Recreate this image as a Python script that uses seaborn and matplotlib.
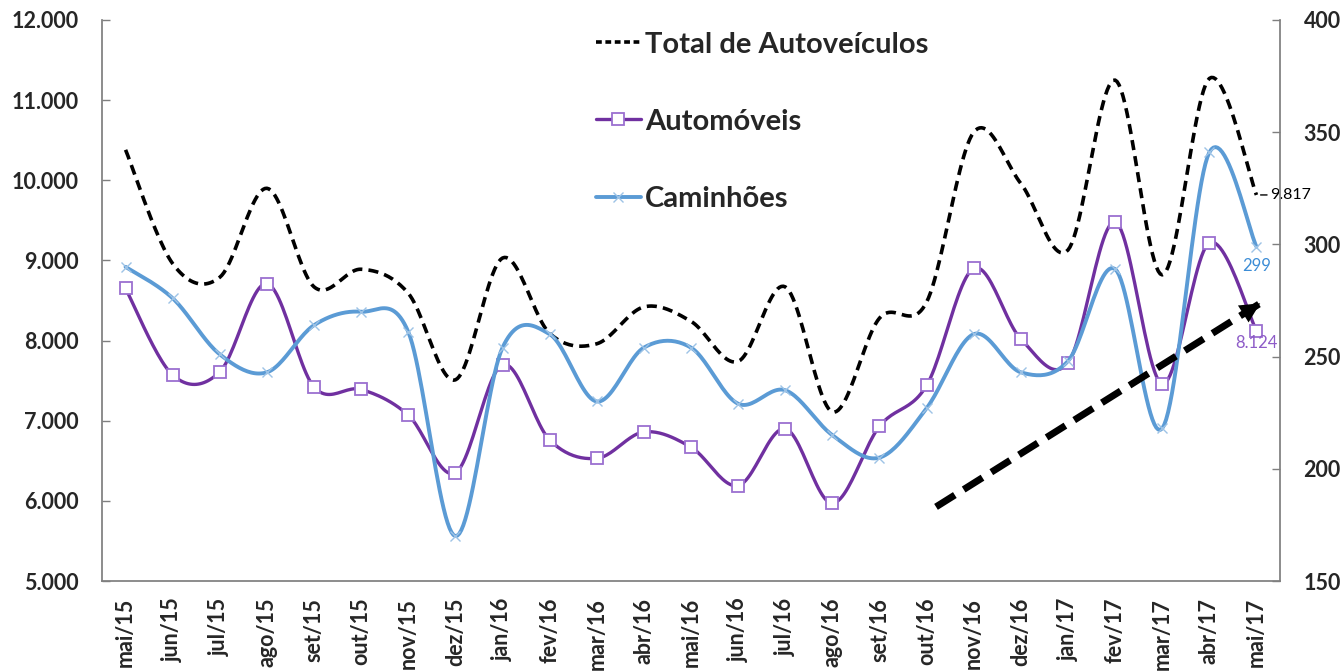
import numpy as np
import pandas as pd
import matplotlib
matplotlib.use("Agg")
import matplotlib.pyplot as plt
import seaborn as sns
from matplotlib.lines import Line2D
from matplotlib.ticker import FuncFormatter, FixedLocator

# ==========================
# DATA
# ==========================

months = ["mai/15", "jun/15", "jul/15", "ago/15", "set/15", "out/15", "nov/15",
          "dez/15", "jan/16", "fev/16", "mar/16", "abr/16", "mai/16", "jun/16",
          "jul/16", "ago/16", "set/16", "out/16", "nov/16", "dez/16", "jan/17",
          "fev/17", "mar/17", "abr/17", "mai/17"]

total = [10380, 8960, 8790, 9900, 8670, 8890, 8590, 7510, 9030, 8090, 7960,
         8420, 8240, 7740, 8670, 7110, 8280, 8480, 10600, 9960, 9130, 11250,
         8820, 11270, 9817]

automoveis = [8650, 7570, 7610, 8710, 7420, 7390, 7070, 6350, 7700, 6760, 6530,
              6860, 6670, 6190, 6900, 5970, 6930, 7440, 8900, 8020, 7720, 9480,
              7460, 9220, 8124]

caminhoes = [290, 276, 251, 243, 264, 270, 261, 170, 254, 260, 230, 254, 254,
             229, 235, 215, 205, 227, 260, 243, 248, 289, 218, 341, 299]

# trend arrow (category index, left axis value)
trend_start = (17.2, 5925)
trend_end = (24.08, 8465)

left_ticks = [5000, 6000, 7000, 8000, 9000, 10000, 11000, 12000]
right_ticks = [150, 200, 250, 300, 350, 400]

# ==========================
# STYLE
# ==========================

sns.set_theme(style="white")
plt.rcParams["font.family"] = ["Lato", "DejaVu Sans"]

PURPLE = "#7030A0"
PURPLE_MARK = "#9B6FD0"
BLUE = "#5B9BD5"
BLUE_MARK = "#9DC3E6"
AXIS_GREY = "#7F7F7F"


def smooth(values, n=24):
    # catmull-rom curve through the points, similar to excel smoothed lines
    x = np.arange(len(values), dtype=float)
    y = np.asarray(values, dtype=float)
    px = np.concatenate([[x[0]], x, [x[-1]]])
    py = np.concatenate([[y[0]], y, [y[-1]]])
    out_x, out_y = [], []
    t = np.linspace(0, 1, n, endpoint=False)
    for i in range(len(values) - 1):
        for p, out in ((px, out_x), (py, out_y)):
            p0, p1, p2, p3 = p[i], p[i + 1], p[i + 2], p[i + 3]
            seg = 0.5 * ((2 * p1) + (-p0 + p2) * t
                         + (2 * p0 - 5 * p1 + 4 * p2 - p3) * t ** 2
                         + (-p0 + 3 * p1 - 3 * p2 + p3) * t ** 3)
            out.extend(seg)
    out_x.append(x[-1])
    out_y.append(y[-1])
    return pd.DataFrame({"x": out_x, "y": out_y})


fig = plt.figure(figsize=(13.44, 6.72), dpi=100)
ax = fig.add_axes([102 / 1344, 1 - 581 / 672, 1178 / 1344, 561 / 672])
ax2 = ax.twinx()

# ==========================
# LINES
# ==========================

tot_curve = smooth(total)
sns.lineplot(data=tot_curve, x="x", y="y", ax=ax, color="black", lw=2.6,
             sort=False, estimator=None)
ax.lines[-1].set_dashes((2.8, 1.7))

auto_curve = smooth(automoveis)
sns.lineplot(data=auto_curve, x="x", y="y", ax=ax, color=PURPLE, lw=2.4,
             sort=False, estimator=None)
ax.plot(range(len(months)), automoveis, ls="none", marker="s", ms=8,
        mfc="white", mec=PURPLE_MARK, mew=1.3)

cam_curve = smooth(caminhoes)
sns.lineplot(data=cam_curve, x="x", y="y", ax=ax2, color=BLUE, lw=2.8,
             sort=False, estimator=None)
ax2.plot(range(len(months)), caminhoes, ls="none", marker="x", ms=7,
         mec=BLUE_MARK, mew=1.0)

# trend arrow
ax2.plot([trend_start[0], trend_end[0]], [trend_start[1], trend_end[1]],
         transform=ax.transData, color="black", lw=5, dashes=(3.2, 1.5),
         solid_capstyle="butt", dash_capstyle="butt")
back = (trend_end[0] - 0.04 * (trend_end[0] - trend_start[0]),
        trend_end[1] - 0.04 * (trend_end[1] - trend_start[1]))
ax2.annotate("", xy=trend_end, xytext=back, xycoords=ax.transData,
             textcoords=ax.transData,
             arrowprops=dict(arrowstyle="-|>", color="black", lw=0,
                             mutation_scale=36, shrinkA=0, shrinkB=0))

# data labels for last month
last = len(months) - 1
ax.annotate(f"{total[last]:,}".replace(",", "."), xy=(last, total[last]),
            xytext=(10, 0), textcoords="offset points", ha="left",
            va="center", fontsize=11.5, color="black",
            arrowprops=dict(arrowstyle="-", lw=1, color="black",
                            shrinkA=0, shrinkB=3))
ax2.annotate(str(caminhoes[last]), xy=(last, caminhoes[last]),
             xytext=(0, -14), textcoords="offset points", ha="center",
             va="center", fontsize=12, color="#3C8DD6")
ax.annotate(f"{automoveis[last]:,}".replace(",", "."),
            xy=(last, automoveis[last]), xytext=(0, -9),
            textcoords="offset points", ha="center", va="center",
            fontsize=12, color="#8E5CC8")

# ==========================
# AXES
# ==========================

ax.set_xlim(-0.5, len(months) - 0.5)
ax.set_ylim(5000, 12000)
ax2.set_ylim(150, 400)

ax.xaxis.set_major_locator(FixedLocator(np.arange(-0.5, len(months), 1)))
ax.xaxis.set_minor_locator(FixedLocator(np.arange(len(months))))
ax.set_xticklabels([], minor=False)
ax.set_xticklabels(months, minor=True, rotation=90, fontsize=15.5,
                   fontweight="bold")
ax.tick_params(axis="x", which="major", direction="inout", length=11,
               width=1, color=AXIS_GREY)
ax.tick_params(axis="x", which="minor", length=0, pad=12)

ax.set_yticks(left_ticks)
ax.yaxis.set_major_formatter(FuncFormatter(
    lambda v, _: f"{v:,.0f}".replace(",", ".")))
ax.tick_params(axis="y", direction="in", length=6, width=1, color=AXIS_GREY,
               pad=17, labelsize=15.5)
for lab in ax.get_yticklabels():
    lab.set_fontweight("bold")

ax2.set_yticks(right_ticks)
ax2.tick_params(axis="y", direction="in", length=6, width=1, color=AXIS_GREY,
                pad=17, labelsize=15.5)
for lab in ax2.get_yticklabels():
    lab.set_fontweight("bold")

ax.set_xlabel("")
ax.set_ylabel("")
ax2.set_ylabel("")

for name, sp in ax.spines.items():
    sp.set_color(AXIS_GREY)
    sp.set_visible(name in ("left", "bottom"))
for name, sp in ax2.spines.items():
    sp.set_color(AXIS_GREY)
    sp.set_visible(name == "right")

# ==========================
# LEGEND
# ==========================

handles = [
    Line2D([], [], color="black", lw=2.6, dashes=(1.6, 1.0)),
    Line2D([], [], color=PURPLE, lw=2.4, marker="s", ms=8, mfc="white",
           mec=PURPLE_MARK, mew=1.3),
    Line2D([], [], color=BLUE, lw=2.8, marker="x", ms=7, mec=BLUE_MARK,
           mew=1.0),
]
labels = ["Total de Autoveículos", "Automóveis", "Caminhões"]
fig.legend(handles, labels, loc="upper left",
           bbox_to_anchor=(584 / 1344, 1 - 20 / 672), frameon=False,
           prop={"size": 21, "weight": "bold"}, handlelength=1.55,
           handletextpad=0.15, labelspacing=1.75, borderaxespad=0)

fig.savefig("out.png", dpi=100)
